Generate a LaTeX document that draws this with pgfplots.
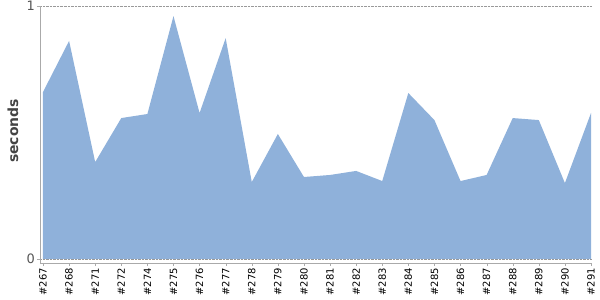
\documentclass[border=0pt]{standalone}
\usepackage{pgfplots}
\pgfplotsset{compat=1.18}
\usepackage{fontspec}
\setmainfont{DejaVu Sans}
\definecolor{areablue}{HTML}{8FB1DA}
\definecolor{axgray}{HTML}{AAAAAA}
\definecolor{labgray}{HTML}{555555}
\begin{document}
\begin{tikzpicture}
\begin{axis}[
  name=ax,
  scale only axis,
  width=551bp, height=257bp,
  xmin=-0.115, xmax=21,
  ymin=-0.016, ymax=1,
  axis x line=bottom, axis y line=left,
  axis line style={axgray, -},
  xtick={0,...,21},
  xticklabels={\#267,\#268,\#271,\#272,\#274,\#275,\#276,\#277,\#278,\#279,\#280,\#281,\#282,\#283,\#284,\#285,\#286,\#287,\#288,\#289,\#290,\#291},
  x tick label style={rotate=90, anchor=east, font=\fontsize{10}{12}\selectfont, inner sep=2bp},
  ytick={0,1},
  y tick label style={font=\fontsize{13}{15}\selectfont, text=labgray, inner sep=2bp},
  /pgf/number format/assume math mode=true,
  tick align=outside,
  major tick length=3bp,
  tick style={axgray},
  ymajorgrids,
  grid style={gray!80, densely dotted, line width=0.5pt},
  ylabel={\textbf{seconds}},
  ylabel style={at={(axis description cs:-0.049,0.514)}, anchor=center, font=\fontsize{14}{16}\selectfont, text=labgray!80!black},
]
\addplot[fill=areablue, draw=none] coordinates {
(0,0.66) (1,0.862) (2,0.383) (3,0.557) (4,0.573) (5,0.96) (6,0.577) (7,0.873) (8,0.304) (9,0.494) (10,0.324) (11,0.332) (12,0.348) (13,0.308) (14,0.656) (15,0.549) (16,0.308) (17,0.332) (18,0.557) (19,0.549) (20,0.300) (21,0.577)
} \closedcycle;
\end{axis}
\pgfresetboundingbox
\path ([xshift=-40bp,yshift=-37bp]ax.south west) rectangle ([xshift=9bp,yshift=6bp]ax.north east);
\end{tikzpicture}
\end{document}
